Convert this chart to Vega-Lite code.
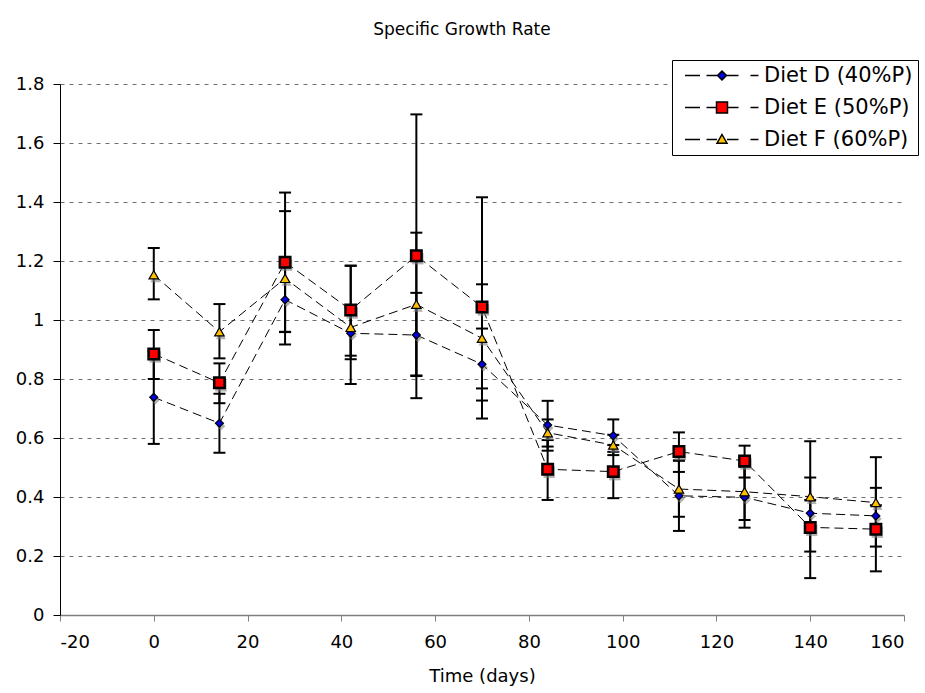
{
  "$schema": "https://vega.github.io/schema/vega-lite/v6.json",
  "width": 844,
  "height": 531,
  "autosize": {"type": "none"},
  "padding": {"left": 60, "top": 84, "right": 21, "bottom": 78},
  "background": "white",
  "config": {
    "font": "DejaVu Sans",
    "view": {"stroke": null},
    "axis": {"labelColor": "black", "titleColor": "black", "titleFontWeight": "normal"}
  },
  "title": {"text": "Specific Growth Rate", "anchor": "middle", "fontSize": 17, "fontWeight": "normal", "offset": 21, "dx": -20, "color": "black"},
  "datasets": {
    "sgr": [
      {"day": 0, "diet": "Diet D (40%P)", "sgr": 0.738, "lo": 0.58, "hi": 0.896},
      {"day": 14, "diet": "Diet D (40%P)", "sgr": 0.65, "lo": 0.55, "hi": 0.75},
      {"day": 28, "diet": "Diet D (40%P)", "sgr": 1.069, "lo": 0.959, "hi": 1.179},
      {"day": 42, "diet": "Diet D (40%P)", "sgr": 0.955, "lo": 0.867, "hi": 1.045},
      {"day": 56, "diet": "Diet D (40%P)", "sgr": 0.949, "lo": 0.812, "hi": 1.092},
      {"day": 70, "diet": "Diet D (40%P)", "sgr": 0.85, "lo": 0.727, "hi": 0.971},
      {"day": 84, "diet": "Diet D (40%P)", "sgr": 0.644, "lo": 0.557, "hi": 0.726},
      {"day": 98, "diet": "Diet D (40%P)", "sgr": 0.608, "lo": 0.553, "hi": 0.663},
      {"day": 112, "diet": "Diet D (40%P)", "sgr": 0.404, "lo": 0.285, "hi": 0.523},
      {"day": 126, "diet": "Diet D (40%P)", "sgr": 0.399, "lo": 0.296, "hi": 0.502},
      {"day": 140, "diet": "Diet D (40%P)", "sgr": 0.345, "lo": 0.3, "hi": 0.39},
      {"day": 154, "diet": "Diet D (40%P)", "sgr": 0.336, "lo": 0.3, "hi": 0.372},
      {"day": 0, "diet": "Diet E (50%P)", "sgr": 0.885, "lo": 0.8, "hi": 0.966},
      {"day": 14, "diet": "Diet E (50%P)", "sgr": 0.787, "lo": 0.718, "hi": 0.853},
      {"day": 28, "diet": "Diet E (50%P)", "sgr": 1.196, "lo": 0.96, "hi": 1.432},
      {"day": 42, "diet": "Diet E (50%P)", "sgr": 1.034, "lo": 0.879, "hi": 1.184},
      {"day": 56, "diet": "Diet E (50%P)", "sgr": 1.218, "lo": 0.735, "hi": 1.697},
      {"day": 70, "diet": "Diet E (50%P)", "sgr": 1.044, "lo": 0.666, "hi": 1.416},
      {"day": 84, "diet": "Diet E (50%P)", "sgr": 0.494, "lo": 0.39, "hi": 0.593},
      {"day": 98, "diet": "Diet E (50%P)", "sgr": 0.486, "lo": 0.396, "hi": 0.576},
      {"day": 112, "diet": "Diet E (50%P)", "sgr": 0.554, "lo": 0.485, "hi": 0.619},
      {"day": 126, "diet": "Diet E (50%P)", "sgr": 0.522, "lo": 0.466, "hi": 0.574},
      {"day": 140, "diet": "Diet E (50%P)", "sgr": 0.297, "lo": 0.125, "hi": 0.466},
      {"day": 154, "diet": "Diet E (50%P)", "sgr": 0.291, "lo": 0.148, "hi": 0.431},
      {"day": 0, "diet": "Diet F (60%P)", "sgr": 1.153, "lo": 1.07, "hi": 1.244},
      {"day": 14, "diet": "Diet F (60%P)", "sgr": 0.96, "lo": 0.87, "hi": 1.054},
      {"day": 28, "diet": "Diet F (60%P)", "sgr": 1.141, "lo": 0.917, "hi": 1.369},
      {"day": 42, "diet": "Diet F (60%P)", "sgr": 0.975, "lo": 0.783, "hi": 1.184},
      {"day": 56, "diet": "Diet F (60%P)", "sgr": 1.053, "lo": 0.81, "hi": 1.296},
      {"day": 70, "diet": "Diet F (60%P)", "sgr": 0.938, "lo": 0.768, "hi": 1.121},
      {"day": 84, "diet": "Diet F (60%P)", "sgr": 0.618, "lo": 0.571, "hi": 0.663},
      {"day": 98, "diet": "Diet F (60%P)", "sgr": 0.576, "lo": 0.542, "hi": 0.611},
      {"day": 112, "diet": "Diet F (60%P)", "sgr": 0.427, "lo": 0.333, "hi": 0.524},
      {"day": 126, "diet": "Diet F (60%P)", "sgr": 0.418, "lo": 0.322, "hi": 0.514},
      {"day": 140, "diet": "Diet F (60%P)", "sgr": 0.401, "lo": 0.215, "hi": 0.589},
      {"day": 154, "diet": "Diet F (60%P)", "sgr": 0.381, "lo": 0.232, "hi": 0.535}
    ]
  },
  "data": {"name": "sgr"},
  "layer": [
    {
      "mark": {"type": "line", "stroke": "black", "strokeWidth": 1, "strokeDash": [9, 5]},
      "encoding": {
        "x": {"field": "day", "type": "quantitative", "title": "Time (days)",
          "scale": {"domain": [-20, 160], "nice": false, "zero": false},
          "axis": {"values": [-20, 0, 20, 40, 60, 80, 100, 120, 140, 160], "labelExpr": "'' + datum.value", "grid": false,
            "domainColor": "#808080", "domainWidth": 1.5, "tickColor": "#808080", "tickSize": 6, "labelPadding": 12,
            "labelFontSize": 18, "titleFontSize": 18, "titlePadding": 16}},
        "y": {"field": "sgr", "type": "quantitative", "title": null,
          "scale": {"domain": [0, 1.8], "nice": false},
          "axis": {"values": [0, 0.2, 0.4, 0.6, 0.8, 1, 1.2, 1.4, 1.6, 1.8], "format": "~g", "grid": true,
            "gridDash": [4, 5], "gridColor": "#707070", "gridWidth": 1,
            "domainColor": "black", "tickColor": "black", "tickSize": 7, "labelPadding": 9, "labelFontSize": 18}},
        "detail": {"field": "diet"},
        "order": {"field": "day"}
      }
    },
    {
      "mark": {"type": "rule", "stroke": "black", "strokeWidth": 2},
      "encoding": {
        "x": {"field": "day", "type": "quantitative"},
        "y": {"field": "lo", "type": "quantitative", "title": null},
        "y2": {"field": "hi"}
      }
    },
    {
      "mark": {"type": "tick", "orient": "horizontal", "size": 12, "thickness": 2, "color": "black", "opacity": 1},
      "encoding": {
        "x": {"field": "day", "type": "quantitative"},
        "y": {"field": "lo", "type": "quantitative", "title": null}
      }
    },
    {
      "mark": {"type": "tick", "orient": "horizontal", "size": 12, "thickness": 2, "color": "black", "opacity": 1},
      "encoding": {
        "x": {"field": "day", "type": "quantitative"},
        "y": {"field": "hi", "type": "quantitative", "title": null}
      }
    },
    {
      "mark": {"type": "point", "filled": true, "fill": "#808080", "opacity": 0.6, "xOffset": 1.5, "yOffset": 3, "strokeWidth": 0},
      "encoding": {
        "x": {"field": "day", "type": "quantitative"},
        "y": {"field": "sgr", "type": "quantitative", "title": null},
        "shape": {"field": "diet", "type": "nominal", "legend": null,
          "scale": {"domain": ["Diet D (40%P)", "Diet E (50%P)", "Diet F (60%P)"], "range": ["diamond", "square", "triangle-up"]}},
        "size": {"condition": [{"test": "datum.diet === 'Diet E (50%P)'", "value": 130}, {"test": "datum.diet === 'Diet F (60%P)'", "value": 100}], "value": 75}
      }
    },
    {
      "mark": {"type": "point", "filled": true, "stroke": "black", "opacity": 1},
      "encoding": {
        "x": {"field": "day", "type": "quantitative"},
        "y": {"field": "sgr", "type": "quantitative", "title": null},
        "shape": {"field": "diet", "type": "nominal", "legend": null,
          "scale": {"domain": ["Diet D (40%P)", "Diet E (50%P)", "Diet F (60%P)"], "range": ["diamond", "square", "triangle-up"]}},
        "fill": {"field": "diet", "type": "nominal", "legend": null,
          "scale": {"domain": ["Diet D (40%P)", "Diet E (50%P)", "Diet F (60%P)"], "range": ["#0000e0", "#ff0000", "#ffc000"]}},
        "size": {"condition": [{"test": "datum.diet === 'Diet E (50%P)'", "value": 110}, {"test": "datum.diet === 'Diet F (60%P)'", "value": 90}], "value": 64},
        "strokeWidth": {"condition": {"test": "datum.diet === 'Diet E (50%P)'", "value": 2.5}, "value": 1.2}
      }
    },
    {
      "transform": [{"filter": "false"}],
      "mark": {"type": "point", "filled": true, "stroke": "black", "strokeWidth": 1, "opacity": 1},
      "encoding": {
        "x": {"field": "day", "type": "quantitative"},
        "y": {"field": "sgr", "type": "quantitative", "title": null},
        "shape": {"field": "diet", "type": "nominal", "title": null,
          "scale": {"domain": ["Diet D (40%P)", "Diet E (50%P)", "Diet F (60%P)"],
            "range": [
              "M-0.5,0H2.5M3.8,0H6M6.9,-0.9L7.8,0L6.9,0.9L6,0ZM7.8,0H10.2M12.6,0H14.2",
              "M-0.5,0H2.5M3.8,0H5.8M5.8,-1.1H8V1.1H5.8ZM8,0H10.2M12.6,0H14.2",
              "M-0.5,0H2.5M3.8,0H5.9M6.9,-1L7.9,0.75H5.9ZM7.9,0H10.2M12.6,0H14.2"
            ]},
          "legend": {"orient": "none", "legendX": 612, "legendY": -24, "padding": 5, "symbolSize": 100,
            "symbolOffset": 0, "labelOffset": 66, "labelFontSize": 21, "labelColor": "black", "rowPadding": 10,
            "fillColor": "white", "strokeColor": "black",
            "encode": {"legend": {"update": {"strokeWidth": {"value": 2}}},
              "symbols": {"update": {"stroke": {"value": "black"}, "strokeWidth": {"value": 1}, "opacity": {"value": 1}}}}}},
        "fill": {"field": "diet", "type": "nominal", "title": null,
          "scale": {"domain": ["Diet D (40%P)", "Diet E (50%P)", "Diet F (60%P)"], "range": ["#0000e0", "#ff0000", "#ffc000"]}}
      }
    }
  ],
  "resolve": {"scale": {"shape": "independent", "fill": "independent"}}
}
